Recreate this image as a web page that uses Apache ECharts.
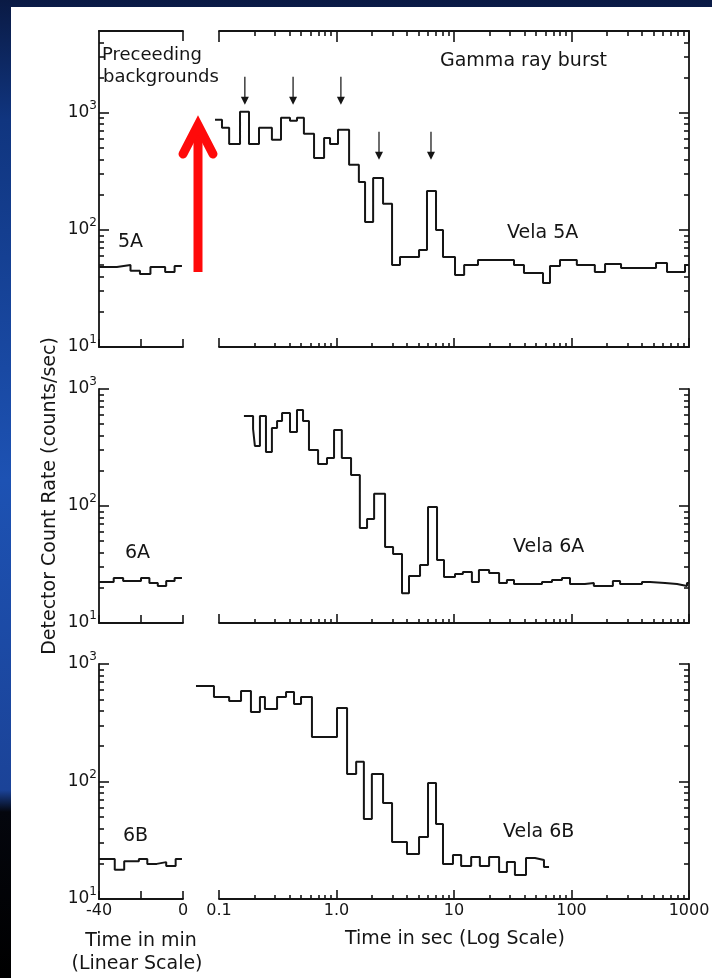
<!DOCTYPE html>
<html>
<head>
<meta charset="utf-8">
<script src="https://cdn.jsdelivr.net/npm/echarts@6.0.0/dist/echarts.min.js"></script>
<style>
  html, body { margin: 0; padding: 0; }
  body {
    width: 712px; height: 978px; overflow: hidden; position: relative;
    background: linear-gradient(180deg, #0a1a44 0px, #10357f 120px, #1d52b3 480px, #1b4398 790px, #04060d 812px, #000 978px);
  }
  #paper { position: absolute; left: 11px; top: 7px; right: 0; bottom: 0; background: #fff; }
  #chart { position: absolute; left: 0; top: 0; width: 712px; height: 978px; }
</style>
</head>
<body>
<div id="paper"></div>
<div id="chart"></div>
<script>
// ---- data (counts/sec) ----
// preceding backgrounds, time in min (bin edges) and rates
const bgTime5A = [-40, -31.5, -25, -20.5, -15.5, -8.5, -4, -0.5];
const bgRate5A = [48.3, 50.2, 44.7, 42.1, 48.3, 43.8, 49.2];
const bgTime6A = [-40, -33, -28.5, -20, -16, -12, -8, -4, -0.5];
const bgRate6A = [22.4, 24.3, 22.9, 24.3, 22.0, 20.7, 22.9, 24.3];
const bgTime6B = [-40, -32.5, -28, -21, -17, -12.5, -8, -3.5, -0.5];
const bgRate6B = [21.9, 17.7, 21.0, 21.9, 19.9, 20.6, 19.1, 21.9];

// burst, time in sec (bin edges) and rates
const burstTime5A = [0.0925, 0.106, 0.122, 0.151, 0.180, 0.219, 0.282, 0.337, 0.402, 0.461, 0.528, 0.644, 0.784, 0.881, 1.03, 1.28, 1.55, 1.75, 2.05, 2.49, 2.97, 3.47, 5.04, 5.89, 7.03, 8.06, 10.2, 12.2, 16.0, 32.4, 39.4, 57.2, 65.6, 79.8, 111, 158, 193, 264, 524, 650, 925, 1000];
const burstRate5A = [871, 745, 543, 1020, 543, 745, 588, 906, 855, 906, 662, 412, 611, 543, 716, 360, 257, 117, 278, 167, 50.2, 58.8, 67.5, 215, 100, 58.8, 41.2, 50.2, 55.4, 50.2, 42.9, 35.2, 49.2, 55.4, 50.2, 43.8, 51.2, 47.3, 52.2, 43.8, 50.2];

const burstTime6A = [0.163, 0.195, 0.202, 0.223, 0.251, 0.282, 0.312, 0.344, 0.402, 0.461, 0.519, 0.583, 0.697, 0.830, 0.953, 1.11, 1.33, 1.58, 1.82, 2.09, 2.59, 3.03, 3.61, 4.14, 5.14, 6.01, 7.17, 8.22, 10.2, 11.9, 14.2, 16.3, 19.9, 24.2, 28.2, 32.4, 56.1, 68.2, 83.0, 97.1, 130, 155, 225, 259, 398, 466, 625, 791, 961, 1000];
const burstRate6A = [588, 455, 326, 588, 290, 464, 533, 624, 429, 662, 533, 301, 229, 257, 446, 257, 184, 64.9, 77.4, 127, 44.7, 38.9, 18.0, 25.2, 31.3, 98.0, 34.5, 24.7, 26.2, 27.3, 22.4, 28.4, 26.7, 22.0, 23.3, 21.5, 22.4, 23.3, 24.3, 21.5, 22.0, 20.7, 22.9, 21.5, 22.4, 22.0, 21.5, 20.7, 22.0];

const burstTime6B = [0.0637, 0.0906, 0.122, 0.154, 0.187, 0.223, 0.246, 0.312, 0.372, 0.435, 0.499, 0.618, 1.01, 1.23, 1.47, 1.71, 2.00, 2.49, 2.97, 3.98, 5.04, 6.01, 7.03, 8.06, 9.80, 11.5, 14.0, 16.6, 19.9, 24.2, 28.2, 33.0, 41.0, 48.9, 58.3, 64.4];
const burstRate6B = [650, 524, 484, 589, 390, 524, 414, 524, 578, 457, 524, 239, 422, 116, 147, 47.9, 116, 65.6, 30.5, 24.2, 33.7, 97.1, 43.5, 19.9, 23.7, 19.1, 22.8, 19.1, 22.8, 17.0, 20.6, 16.0, 22.3, 21.5, 18.7];

// peak markers on Vela 5A (time, rate at arrow tip)
const arrowTime5A = [0.166, 0.427, 1.09, 2.30, 6.37];
const arrowTip5A = [1170, 1170, 1170, 397, 397];

// ticks
const rateMajor = [10, 100, 1000];
const rateExp = ['1', '2', '3'];
const rateMinor = [20, 30, 40, 50, 60, 70, 80, 90, 200, 300, 400, 500, 600, 700, 800, 900, 2000, 3000, 4000];
const secMajor = [0.1, 1, 10, 100, 1000];
const secLabels = ['0.1', '1.0', '10', '100', '1000'];
const secMinor = [0.2, 0.3, 0.4, 0.5, 0.6, 0.7, 0.8, 0.9, 2, 3, 4, 5, 6, 7, 8, 9, 20, 30, 40, 50, 60, 70, 80, 90, 200, 300, 400, 500, 600, 700, 800, 900];
const minTicks = [-40, -20, 0];
const minLabelValues = [-40, 0];
const minLabels = ['-40', '0'];

const INK = '#151515';
const FONT = 'DejaVu Sans';
const SEC_MIN = 0.1, SEC_MAX = 1000, SEC_DATA_MIN = 0.06;

function hist(edges, rates) {
  const pts = rates.map((r, i) => [edges[i], r]);
  pts.push([edges[edges.length - 1], rates[rates.length - 1]]);
  return pts;
}
function nearIdx(list, v) {
  return list.findIndex(s => Math.abs(Math.log10(s) - Math.log10(v)) < 1e-6);
}

const rows = [
  { top: 31, height: 316, max: 5000, bgT: bgTime5A, bgR: bgRate5A, t: burstTime5A, r: burstRate5A, topAxis: true, labels: false },
  { top: 389, height: 234, max: 1000, bgT: bgTime6A, bgR: bgRate6A, t: burstTime6A, r: burstRate6A, topAxis: false, labels: false },
  { top: 664, height: 235, max: 1000, bgT: bgTime6B, bgR: bgRate6B, t: burstTime6B, r: burstRate6B, topAxis: false, labels: true }
];

const lineSt = { color: INK, width: 1.8 };
const tickSt = { color: INK, width: 1.6 };
const lab = { color: INK, fontFamily: FONT, fontSize: 16 };
const grid = [], xAxis = [], yAxis = [], series = [];

// right panel frame: 0.1 .. 1000 s; the data grid reaches a little further left
const R_LEFT = 219, R_WIDTH = 470;
const decadePx = R_WIDTH / Math.log10(SEC_MAX / SEC_MIN);
const extraPx = decadePx * Math.log10(SEC_MIN / SEC_DATA_MIN);

function addGrid(left, width, row) {
  return grid.push({ left: left, top: row.top, width: width, height: row.height, containLabel: false, outerBoundsMode: 'none' }) - 1;
}

rows.forEach(function (row, i) {
  const gL = addGrid(99, 84, row);
  const gLm = addGrid(99, 84, row);
  const gR = addGrid(R_LEFT, R_WIDTH, row);
  const gRm = addGrid(R_LEFT, R_WIDTH, row);
  const gD = addGrid(R_LEFT - extraPx, R_WIDTH + extraPx, row);
  const minors = rateMinor.filter(v => v < row.max);

  // left: linear minutes
  const xL = xAxis.push({
    gridIndex: gL, type: 'value', position: 'bottom', min: -40, max: 0,
    axisLine: { show: true, onZero: false, lineStyle: lineSt },
    axisTick: { show: true, inside: true, length: 8, customValues: minTicks, lineStyle: tickSt },
    axisLabel: { show: row.labels, customValues: minLabelValues, margin: 4,
      formatter: v => minLabels[minLabelValues.indexOf(v)], ...lab },
    splitLine: { show: false }
  }) - 1;
  if (row.topAxis) {
    xAxis.push({
      gridIndex: gL, type: 'value', position: 'top', min: -40, max: 0,
      axisLine: { show: true, onZero: false, lineStyle: lineSt },
      axisTick: { show: true, inside: true, length: 10, customValues: [0], lineStyle: tickSt },
      axisLabel: { show: false }, splitLine: { show: false }
    });
  }
  const yL = yAxis.push({
    gridIndex: gL, type: 'log', logBase: 10, position: 'left', min: 10, max: row.max,
    axisLine: { show: true, onZero: false, lineStyle: lineSt },
    axisTick: { show: true, inside: true, length: 10, customValues: rateMajor, lineStyle: tickSt },
    axisLabel: { show: true, customValues: rateMajor, margin: 2,
      formatter: v => '{b|10}{s|' + rateExp[nearIdx(rateMajor, v)] + '}',
      rich: {
        b: { fontSize: 17, fontFamily: FONT, color: INK, lineHeight: 26 },
        s: { fontSize: 12, fontFamily: FONT, color: INK, lineHeight: 12, verticalAlign: 'top' }
      } },
    splitLine: { show: false }
  }) - 1;
  xAxis.push({ gridIndex: gLm, type: 'value', min: -40, max: 0, show: false, splitLine: { show: false } });
  yAxis.push({
    gridIndex: gLm, type: 'log', logBase: 10, position: 'left', min: 10, max: row.max,
    axisLine: { show: false, onZero: false },
    axisTick: { show: true, inside: true, length: 5, customValues: minors, lineStyle: tickSt },
    axisLabel: { show: false }, splitLine: { show: false }
  });

  // right: log seconds (frame + major ticks)
  xAxis.push({
    gridIndex: gR, type: 'log', logBase: 10, position: 'bottom', min: SEC_MIN, max: SEC_MAX,
    axisLine: { show: true, onZero: false, lineStyle: lineSt },
    axisTick: { show: true, inside: true, length: 9, customValues: secMajor, lineStyle: tickSt },
    axisLabel: { show: row.labels, customValues: secMajor, margin: 4,
      formatter: v => secLabels[nearIdx(secMajor, v)], ...lab },
    splitLine: { show: false }
  });
  if (row.topAxis) {
    xAxis.push({
      gridIndex: gR, type: 'log', logBase: 10, position: 'top', min: SEC_MIN, max: SEC_MAX,
      axisLine: { show: true, onZero: false, lineStyle: lineSt },
      axisTick: { show: true, inside: true, length: 11, customValues: secMajor, lineStyle: tickSt },
      axisLabel: { show: false }, splitLine: { show: false }
    });
  }
  yAxis.push({
    gridIndex: gR, type: 'log', logBase: 10, position: 'right', min: 10, max: row.max,
    axisLine: { show: true, onZero: false, lineStyle: lineSt },
    axisTick: { show: true, inside: true, length: 10, customValues: rateMajor, lineStyle: tickSt },
    axisLabel: { show: false }, splitLine: { show: false }
  });
  // minor ticks
  xAxis.push({
    gridIndex: gRm, type: 'log', logBase: 10, position: 'bottom', min: SEC_MIN, max: SEC_MAX,
    axisLine: { show: false, onZero: false },
    axisTick: { show: true, inside: true, length: 4, customValues: secMinor, lineStyle: tickSt },
    axisLabel: { show: false }, splitLine: { show: false }
  });
  if (row.topAxis) {
    xAxis.push({
      gridIndex: gRm, type: 'log', logBase: 10, position: 'top', min: SEC_MIN, max: SEC_MAX,
      axisLine: { show: false, onZero: false },
      axisTick: { show: true, inside: true, length: 5, customValues: secMinor, lineStyle: tickSt },
      axisLabel: { show: false }, splitLine: { show: false }
    });
  }
  yAxis.push({
    gridIndex: gRm, type: 'log', logBase: 10, position: 'right', min: 10, max: row.max,
    axisLine: { show: false, onZero: false },
    axisTick: { show: true, inside: true, length: 5, customValues: minors, lineStyle: tickSt },
    axisLabel: { show: false }, splitLine: { show: false }
  });
  // data axes (hidden), same scale as the frame but starting at SEC_DATA_MIN
  const xD = xAxis.push({ gridIndex: gD, type: 'log', logBase: 10, min: SEC_DATA_MIN, max: SEC_MAX, show: false, splitLine: { show: false } }) - 1;
  const yD = yAxis.push({ gridIndex: gD, type: 'log', logBase: 10, min: 10, max: row.max, show: false, splitLine: { show: false } }) - 1;

  const common = { type: 'line', step: 'end', symbol: 'none', showSymbol: false, clip: false,
    silent: true, z: 3, lineStyle: { color: INK, width: 2 } };
  series.push(Object.assign({}, common, { xAxisIndex: xL, yAxisIndex: yL, data: hist(row.bgT, row.bgR) }));
  const burst = Object.assign({}, common, { xAxisIndex: xD, yAxisIndex: yD, data: hist(row.t, row.r) });
  if (i === 0) {
    burst.markPoint = {
      silent: true,
      symbol: 'path://M3,0L4.2,0L4.2,20L7.5,20L3.6,28L-0.3,20L3,20Z',
      symbolSize: [8, 28],
      symbolOffset: [0, '-50%'],
      itemStyle: { color: INK },
      label: { show: false },
      data: arrowTime5A.map((t, k) => ({ coord: [t, arrowTip5A[k]] }))
    };
  }
  series.push(burst);
});

function txt(text, x, y, align, size) {
  return { type: 'text', x: x, y: y, silent: true, z: 10,
    style: { text: text, fill: INK, font: (size || 19) + 'px "' + FONT + '"',
      align: align || 'left', verticalAlign: 'middle',
      textAlign: align || 'left', textVerticalAlign: 'middle' } };
}

const graphic = [
  txt('Preceeding', 102, 55, 'left', 18),
  txt('backgrounds', 103, 77, 'left', 18),
  txt('Gamma ray burst', 440, 61),
  txt('Vela 5A', 507, 233),
  txt('5A', 118, 242),
  txt('6A', 125, 553),
  txt('Vela 6A', 513, 547),
  txt('6B', 123, 836),
  txt('Vela 6B', 503, 832),
  txt('Time in min', 141, 941, 'center'),
  txt('(Linear Scale)', 137, 964, 'center'),
  txt('Time in sec (Log Scale)', 455, 939, 'center'),
  { type: 'text', x: 50, y: 496, rotation: Math.PI / 2, silent: true, z: 10,
    style: { text: 'Detector Count Rate (counts/sec)', fill: INK, font: '19px "' + FONT + '"',
      align: 'center', verticalAlign: 'middle', textAlign: 'center', textVerticalAlign: 'middle' } },
  // red overlay arrow
  { type: 'polyline', silent: true, z: 20,
    shape: { points: [[198, 272], [198, 128]] },
    style: { stroke: '#ff0a0a', lineWidth: 9, lineCap: 'butt', fill: null } },
  { type: 'polyline', silent: true, z: 20,
    shape: { points: [[183, 154], [198, 125], [213, 154]] },
    style: { stroke: '#ff0a0a', lineWidth: 9, lineCap: 'round', lineJoin: 'miter', fill: null } }
];

const chart = echarts.init(document.getElementById('chart'), null, { renderer: 'canvas' });
chart.setOption({
  backgroundColor: 'transparent',
  animation: false,
  grid: grid,
  xAxis: xAxis,
  yAxis: yAxis,
  series: series,
  graphic: graphic
});
</script>
</body>
</html>
